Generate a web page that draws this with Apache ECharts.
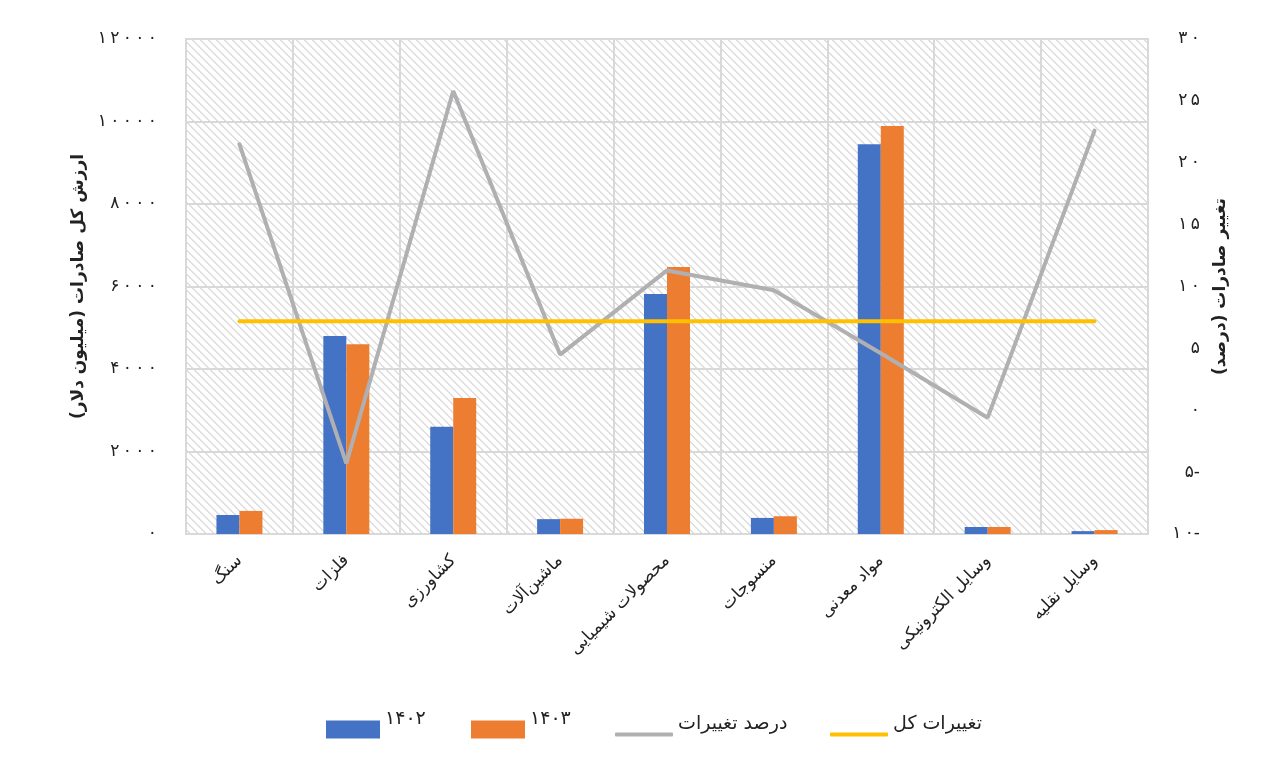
<!DOCTYPE html>
<html>
<head>
<meta charset="utf-8">
<title>صادرات</title>
<script src="https://cdn.jsdelivr.net/npm/echarts@6/dist/echarts.min.js"></script>
<style>
  html, body { margin: 0; padding: 0; background: #fff; }
  #chart { width: 1282px; height: 767px; }
</style>
</head>
<body>
<div id="chart"></div>
<script>
  const categories = ['سنگ', 'فلزات', 'کشاورزی', 'ماشین‌آلات', 'محصولات شیمیایی', 'منسوجات', 'مواد معدنی', 'وسایل الکترونیکی', 'وسایل نقلیه'];
  const values1402 = [460, 4800, 2600, 360, 5820, 390, 9450, 170, 70];
  const values1403 = [560, 4600, 3300, 370, 6470, 430, 9890, 170, 95];
  const percentChange = [21.5, -4.3, 25.8, 4.5, 11.3, 9.7, 4.6, -0.6, 22.6];
  const totalChange = [7.2, 7.2, 7.2, 7.2, 7.2, 7.2, 7.2, 7.2, 7.2];

  const FONT = 'DejaVu Sans';
  const faDigits = '۰۱۲۳۴۵۶۷۸۹';
  // persian digits, a bit spread out, minus sign written after the number
  const toFa = (v) => {
    const s = String(Math.abs(v)).split('').map((d) => faDigits[d]).join('\u2009');
    return v < 0 ? s + '-' : s;
  };

  // diagonal hatch for the plot background
  const makeHatch = () => {
    const n = 8;
    const c = document.createElement('canvas');
    c.width = n;
    c.height = n;
    const ctx = c.getContext('2d');
    const img = ctx.createImageData(n, n);
    for (let y = 0; y < n; y++) {
      for (let x = 0; x < n; x++) {
        const on = (((x - y) % n) + n) % n < 2;
        const v = on ? 222 : 255;
        const i = (y * n + x) * 4;
        img.data[i] = v;
        img.data[i + 1] = v;
        img.data[i + 2] = v;
        img.data[i + 3] = 255;
      }
    }
    ctx.putImageData(img, 0, 0);
    return c;
  };

  const chart = echarts.init(document.getElementById('chart'));

  const legendBase = {
    orient: 'horizontal',
    padding: 0,
    itemGap: 0,
    selectedMode: false,
    formatter: '{t|{name}}',
    textStyle: {
      rich: {
        t: { fontFamily: FONT, fontSize: 19, lineHeight: 22, color: '#222', padding: [0, 0, 20, 0] },
      },
    },
  };

  const option = {
    backgroundColor: '#fff',
    grid: {
      left: 186,
      right: 134,
      top: 39,
      bottom: 233,
      show: true,
      backgroundColor: { image: makeHatch(), repeat: 'repeat' },
      borderColor: '#d9d9d9',
      borderWidth: 2,
    },
    legend: [
      Object.assign({}, legendBase, { left: 326, top: 710, data: ['۱۴۰۲'], icon: 'rect', itemWidth: 54, itemHeight: 18 }),
      Object.assign({}, legendBase, { left: 471, top: 710, data: ['۱۴۰۳'], icon: 'rect', itemWidth: 54, itemHeight: 18 }),
      Object.assign({}, legendBase, { left: 615, top: 715, data: ['درصد تغییرات'], icon: 'roundRect', itemWidth: 58, itemHeight: 4 }),
      Object.assign({}, legendBase, { left: 830, top: 715, data: ['تغییرات کل'], icon: 'roundRect', itemWidth: 58, itemHeight: 4 }),
    ],
    xAxis: {
      type: 'category',
      data: categories,
      boundaryGap: true,
      axisTick: { show: false },
      axisLine: { lineStyle: { color: '#d9d9d9', width: 2 } },
      splitLine: { show: true, interval: 0, lineStyle: { color: '#d9d9d9', width: 2 } },
      axisLabel: { interval: 0, rotate: 45, margin: 24, fontFamily: FONT, fontSize: 17, color: '#222' },
    },
    yAxis: [
      {
        type: 'value',
        min: 0,
        max: 12000,
        interval: 2000,
        name: 'ارزش کل صادرات (میلیون دلار)',
        nameLocation: 'middle',
        nameRotate: 90,
        nameGap: 88,
        nameTextStyle: { fontFamily: FONT, fontSize: 17, fontWeight: 'bold', color: '#222' },
        axisLine: { show: false },
        axisTick: { show: false },
        splitLine: { lineStyle: { color: '#d9d9d9', width: 2 } },
        axisLabel: { margin: 29, fontFamily: FONT, fontSize: 17, color: '#222', formatter: toFa },
      },
      {
        type: 'value',
        min: -10,
        max: 30,
        interval: 5,
        name: 'تغییر صادرات (درصد)',
        nameLocation: 'middle',
        nameRotate: 90,
        nameGap: 64,
        nameTextStyle: { fontFamily: FONT, fontSize: 17, fontWeight: 'bold', color: '#222' },
        axisLine: { show: false },
        axisTick: { show: false },
        splitLine: { show: false },
        axisLabel: { margin: 52, align: 'right', fontFamily: FONT, fontSize: 17, color: '#222', formatter: toFa },
      },
    ],
    series: [
      {
        name: '۱۴۰۲',
        type: 'bar',
        data: values1402,
        barWidth: 23,
        barGap: '0%',
        itemStyle: { color: '#4472C4' },
      },
      {
        name: '۱۴۰۳',
        type: 'bar',
        data: values1403,
        barWidth: 23,
        barGap: '0%',
        itemStyle: { color: '#ED7D31' },
      },
      {
        name: 'درصد تغییرات',
        type: 'line',
        yAxisIndex: 1,
        data: percentChange,
        symbol: 'none',
        lineStyle: { color: '#b0b0b2', width: 4, cap: 'round' },
        itemStyle: { color: '#b0b0b2' },
        z: 3,
      },
      {
        name: 'تغییرات کل',
        type: 'line',
        yAxisIndex: 1,
        data: totalChange,
        symbol: 'none',
        lineStyle: { color: '#FFC000', width: 4, cap: 'round' },
        itemStyle: { color: '#FFC000' },
        z: 4,
      },
    ],
  };

  chart.setOption(option);
</script>
</body>
</html>
